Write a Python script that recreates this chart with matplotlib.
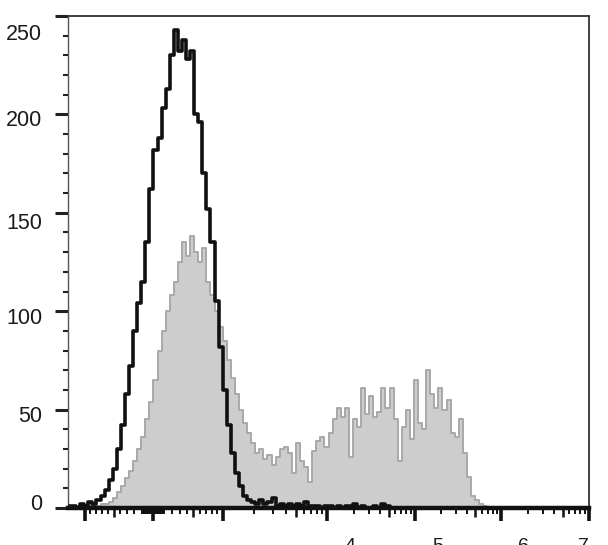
import matplotlib
matplotlib.use('Agg')
import numpy as np
from matplotlib import pyplot as plt
from matplotlib import transforms

plt.rcParams['font.family'] = ['Liberation Sans', 'DejaVu Sans']

# ヒストグラム: 表示チャンネル 0-1024 を幅8のビンで区切った度数
channels = np.arange(4, 1024, 8)
black_counts = [
    1, 1, 0, 2, 1, 3, 2, 4, 6, 9,
    14, 20, 30, 42, 58, 72, 90, 104, 115, 135,
    162, 182, 188, 203, 213, 230, 243, 232, 238, 228,
    232, 200, 196, 170, 152, 135, 105, 82, 60, 42,
    28, 18, 11, 6, 4, 3, 2, 4, 2, 3,
    5, 1, 2, 1, 2, 1, 2, 1, 3, 1,
    1, 1, 0, 1, 1, 0, 1, 0, 1, 1,
    2, 0, 1, 0, 0, 1, 0, 2, 1, 0,
] + [0] * 48
gray_counts = [
    0, 0, 0, 0, 0, 1, 1, 1, 2, 2,
    3, 5, 8, 11, 15, 19, 24, 30, 36, 45,
    54, 65, 80, 90, 100, 108, 115, 125, 135, 128,
    138, 130, 125, 132, 115, 108, 100, 92, 85, 75,
    66, 58, 50, 43, 38, 33, 28, 30, 25, 27,
    22, 26, 30, 31, 28, 18, 33, 24, 21, 13,
    29, 34, 36, 31, 38, 45, 51, 46, 51, 26,
    45, 41, 61, 48, 57, 46, 49, 61, 51, 61,
    45, 24, 41, 50, 35, 65, 43, 40, 70, 58,
    51, 61, 50, 55, 38, 36, 45, 28, 16, 6,
    4, 2, 1, 0, 0,
] + [0] * 23

y_ticks = [0, 50, 100, 150, 200, 250]
y_label_shift = [-6, 4, 5, 8, 4, 16]   # ラベルを下へずらす量 [px]
decade_exps = [4, 5, 6, 7]
decade_dx = [23, 23, 22, -6]           # 指数ラベルの横ずれ [px]


def to_channel(v):
    """蛍光値 -> 表示チャンネル（バイエクスポネンシャル風の軸）"""
    v = np.atleast_1d(np.asarray(v, dtype=float))
    ch = np.empty_like(v)
    pos = (v >= 0) & (v <= 1000)
    neg = v < 0
    big = v > 1000
    ch[pos] = 167.1 + 137.6 * (v[pos] / 1000) ** 0.8
    ch[neg] = 167.1 - 133.7 * (-v[neg] / 1000) ** 0.8
    ch[big] = np.interp(np.log10(v[big]), [3, 4, 5, 6, 7],
                        [304.7, 509.1, 682.0, 851.1, 1024.0])
    return ch


major_vals = [-1000, 0, 1000, 1e4, 1e5, 1e6, 1e7]
medium_vals = [-500, 500, 5e3, 5e4, 5e5, 5e6]
minor_vals = [s * k for s in (-1, 1) for k in list(range(10, 100, 10)) + [100, 200, 300, 400, 600, 700, 800, 900]]
minor_vals += [k * 10 ** d for d in range(3, 7) for k in (2, 3, 4, 6, 7, 8, 9)]

fig = plt.figure(figsize=(6.08, 5.45), dpi=100)
ax = fig.add_axes([68 / 608, 37 / 545, 521 / 608, 492 / 545])

ax.fill_between(channels, gray_counts, step='mid', color='#cdcdcd', lw=0, zorder=1)
ax.step(channels, gray_counts, where='mid', color='#a8a8a8', lw=1.4, zorder=2)
ax.step(channels, black_counts, where='mid', color='#111111', lw=2.6, zorder=3)

ax.set_xlim(0, 1024)
ax.set_ylim(0, 250)

# y軸
ax.set_yticks(y_ticks)
ax.set_yticklabels([str(t) for t in y_ticks])
ax.set_yticks(np.arange(10, 250, 10), minor=True)
ax.tick_params(axis='y', which='major', direction='out', length=9.5, width=2.2,
               color='#222222', labelsize=15.5, labelcolor='#1a1a1a', pad=9)
ax.tick_params(axis='y', which='minor', direction='out', length=3.6, width=1.5, color='#222222')

# x軸
ax.set_xticks(to_channel(major_vals))
ax.set_xticklabels([])
ax.set_xticks(to_channel(minor_vals), minor=True)
ax.tick_params(axis='x', which='major', direction='out', length=9.5, width=2.6, color='#111111')
ax.tick_params(axis='x', which='minor', direction='out', length=4.2, width=1.4, color='#111111')
sec = ax.secondary_xaxis('bottom')
sec.set_xticks(to_channel(medium_vals))
sec.tick_params(direction='out', length=6.5, width=1.8, color='#111111', labelbottom=False)
sec.spines['bottom'].set_visible(False)

for e, dx in zip(decade_exps, decade_dx):
    ax.annotate(str(e), xy=(to_channel(10.0 ** e)[0], 0), xycoords=('data', 'axes fraction'),
                xytext=(dx, -30), textcoords='offset pixels', ha='center', va='top',
                fontsize=14, color='#1a1a1a', annotation_clip=False)

ax.spines['bottom'].set_linewidth(3.2)
ax.spines['bottom'].set_color('#111111')
ax.spines['left'].set_linewidth(1.0)
ax.spines['left'].set_color('#555555')
for side in ('top', 'right'):
    ax.spines[side].set_linewidth(1.3)
    ax.spines[side].set_color('#333333')

for lab, d in zip(ax.get_yticklabels(), y_label_shift):
    lab.set_transform(lab.get_transform() +
                      transforms.ScaledTranslation(0, -d / 100, fig.dpi_scale_trans))

fig.savefig('out.png', dpi=100)
